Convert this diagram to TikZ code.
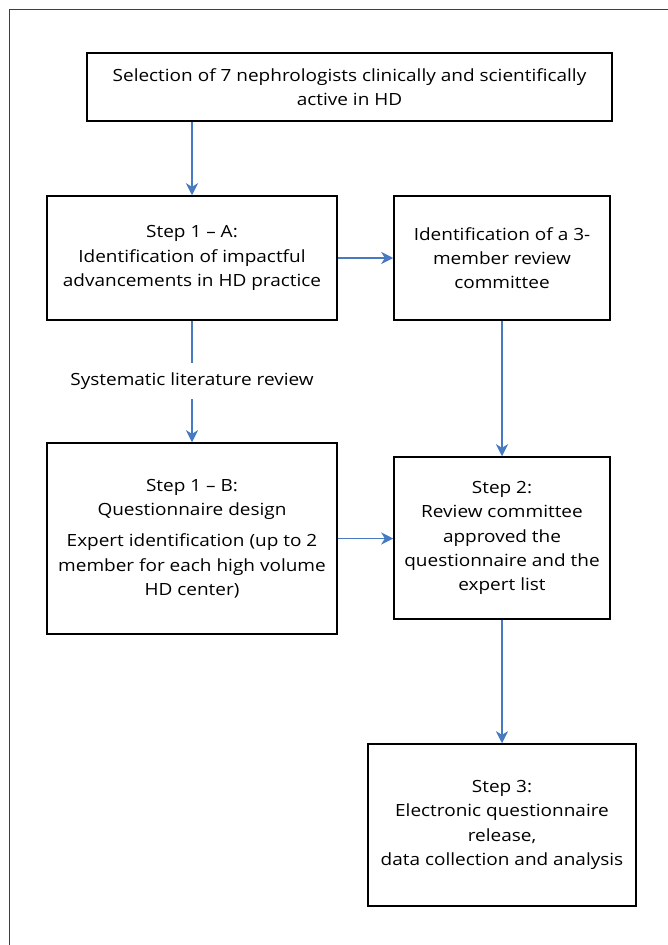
\documentclass[tikz,border=0pt]{standalone}
\usepackage{fontspec}
\setmainfont{Open Sans}[FakeStretch=1.13]
\usetikzlibrary{arrows.meta}
\definecolor{arrowblue}{RGB}{72,122,193}
\begin{document}
\begin{tikzpicture}[x=1pt,y=-1pt,
  box/.style={draw=black,line width=1.5pt,align=center,inner sep=0pt,
    font=\fontsize{16.8}{24.3}\selectfont},
  lbl/.style={align=center,inner sep=0pt,minimum height=36pt,
    font=\fontsize{16.8}{24.3}\selectfont},
  conn/.style={draw=arrowblue,line width=1.6pt,-{Stealth[length=12pt,width=12pt,inset=3.5pt]}},
  plain/.style={draw=arrowblue,line width=1.6pt}]
\useasboundingbox (0,0) rectangle (668,945);
\draw[line width=0.8pt,black!75] (9,9) rectangle (690,970);
\node[box,minimum width=525pt,minimum height=68pt] (sel) at (349.5,87)
  {Selection of 7 nephrologists clinically and scientifically\\active in HD};
\node[box,minimum width=290pt,minimum height=124pt] (s1a) at (192,258)
  {Step 1 -- A:\\Identification of impactful\\advancements in HD practice};
\node[box,minimum width=216pt,minimum height=124pt] (com) at (502,258)
  {Identification of a 3-\\member review\\committee};
\node[lbl] (slr) at (192,381) {Systematic literature review};
\node[box,minimum width=290pt,minimum height=191pt] (s1b) at (192,538.5)
  {Step 1 -- B:\\Questionnaire design\\[7pt]Expert identification (up to 2\\member for each high volume\\HD center)};
\node[box,minimum width=216pt,minimum height=162pt] (s2) at (502,538)
  {Step 2:\\Review committee\\approved the\\questionnaire and the\\expert list};
\node[box,minimum width=268pt,minimum height=162pt] (s3) at (502,825)
  {Step 3:\\Electronic questionnaire\\release,\\data collection and analysis};
\draw[conn] (sel.south -| s1a.north) -- (s1a.north);
\draw[conn] (s1a.east) -- (com.west);
\draw[plain] (s1a.south) -- (slr.north);
\draw[conn] (slr.south) -- (s1b.north);
\draw[conn] (com.south) -- (s2.north);
\draw[conn] (s1b.east) -- (s1b.east -| s2.west);
\draw[conn] (s2.south) -- (s3.north);
\end{tikzpicture}
\end{document}
